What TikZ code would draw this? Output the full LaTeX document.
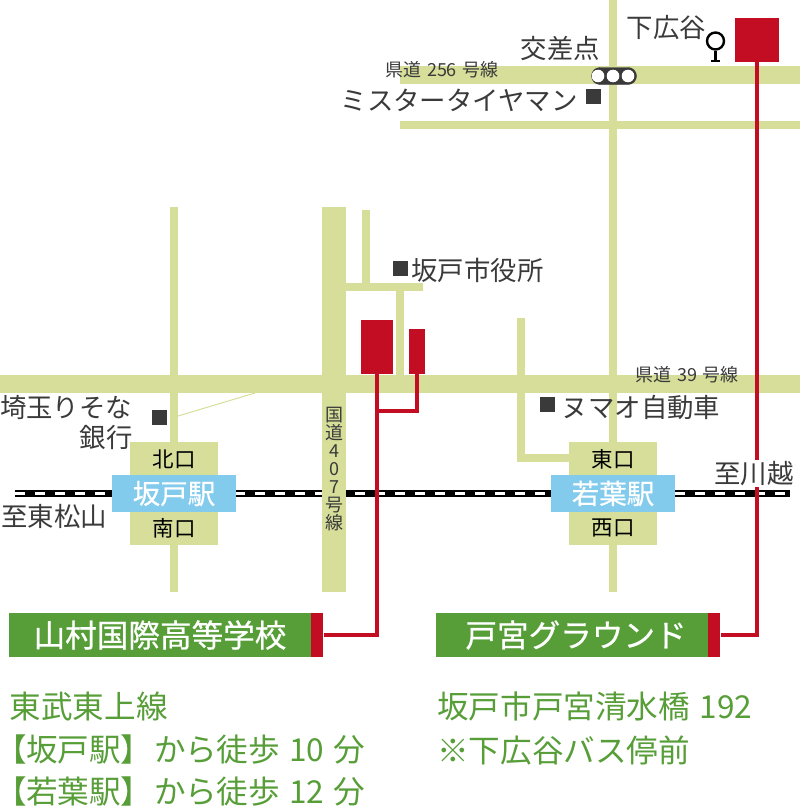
\documentclass[tikz,border=0pt]{standalone}
\usepackage{fontspec}
\setmainfont{Noto Sans CJK JP}
\newfontfamily\heavyfont[FakeBold=0.6]{Noto Sans CJK JP}
\newfontfamily\tightfont[RawFeature=+palt]{Noto Sans CJK JP}
\definecolor{roadcol}{HTML}{D6DE9A}
\definecolor{skycol}{HTML}{83CBEC}
\definecolor{redcol}{HTML}{C30D23}
\definecolor{leafcol}{HTML}{579E38}
\definecolor{inkcol}{HTML}{3A3A3A}
\newcommand{\fs}[1]{\fontsize{#1}{#1}\selectfont}
\newcommand{\nm}[1]{\hspace{.3em}#1\hspace{.3em}}
\tikzset{
  road/.style={fill=roadcol},
  spot/.style={fill=inkcol,inner sep=0,minimum size=15},
  lbl/.style={inner sep=0,text=inkcol,font=\fs{26.4}},
  small/.style={inner sep=0,text=inkcol,font=\fs{18}},
  gate/.style={inner sep=0,text=black,font=\fs{21.5}},
  stn/.style={fill=skycol,inner sep=0,minimum width=124,minimum height=37,text=white,font=\fs{27.5}\heavyfont},
  bldg/.style={fill=redcol,inner sep=0},
  route/.style={draw=redcol,line width=4},
  tab/.style={fill=leafcol,inner sep=0,minimum height=44,text=white,font=\fs{31.6}\heavyfont},
  tabend/.style={fill=redcol,inner sep=0,minimum height=44,minimum width=12},
  info/.style={inner sep=0,anchor=west,text=leafcol,font=\fs{31.6}},
  walk/.style={info,font=\fs{31.6}\tightfont}
}
\begin{document}
\begin{tikzpicture}[x=1pt,y=-1pt]
\useasboundingbox (0,0) rectangle (800,811);
\draw[black,line width=7] (15,493.5) -- (790,493.5);
\draw[white,line width=3,dash pattern=on 10 off 10] (15,493.5) -- (790,493.5);
\foreach \xa/\ya/\xb/\yb in {0/375/800/393,170/207/178/592,322/207/346/592,362/210/370/285,
  346/283/423/291,396/291/404/375,517/318/525/462,517/454/570/462,609/0/617/592,
  400/66/800/84,400/121/800/129,130/442/218/545,569/442/657/545}
\fill[road] (\xa,\ya) rectangle (\xb,\yb);
\draw[roadcol,line width=1] (178,416) -- (255,393);
\node[stn] (sakado) at (174,493.5) {坂戸駅};
\node[stn] (wakaba) at (613,493.5) {若葉駅};
\node[gate] (sakadoN) at (174,459) {北口};
\node[gate] (sakadoS) at (174,528) {南口};
\node[gate] (wakabaE) at (613,459) {東口};
\node[gate] (wakabaW) at (613,528) {西口};
\node[bldg,minimum width=32,minimum height=54] (school) at (377,347) {};
\node[bldg,minimum width=16,minimum height=45] (annex) at (417,351.5) {};
\node[bldg,minimum width=44,minimum height=44] (ground) at (756.5,40) {};
\node[tab,minimum width=302] (schooltab) at (160,635) {山村国際高等学校};
\node[tabend,anchor=west] (schoolend) at (schooltab.east) {};
\node[tab,minimum width=272] (groundtab) at (572,635) {\hspace*{8pt}戸宮グラウンド};
\node[tabend,anchor=west] (groundend) at (groundtab.east) {};
\coordinate (annexjoin) at (377,411);
\draw[route] (school.south) |- (schoolend.east);
\draw[route] (annex.south) |- (annexjoin);
\draw[route] (ground.south) |- (groundend.east);
\node[lbl,fill=white,minimum height=27] (kawagoe) at (754,473.5) {至川越};
\node[lbl] (matsuyama) at (54,516) {至東松山};
\node[lbl] (shimohiroya) at (666.5,28) {下広谷};
\node[lbl] (crossing) at (560.5,48) {交差点};
\node[lbl] (tire) at (459,100) {ミスタータイヤマン};
\node[lbl] (cityhall) at (477.5,270) {坂戸市役所};
\node[lbl] (numao) at (641,408) {ヌマオ自動車};
\node[lbl] (resona) at (66,408) {埼玉りそな};
\node[lbl] (ginko) at (106,437) {銀行};
\node[small] (route256) at (442,70) {県道\nm{256}号線};
\node[small] (route39) at (687,375) {県道\nm{39}号線};
\node[small,align=center] (route407) at (334,469) {国\\道\\4\\0\\7\\号\\線};
\foreach \id/\x/\y in {tire/593.5/96.5,hall/400/268.5,numao/547.5/404.5,resona/159.5/417.5}
\node[spot] (\id spot) at (\x,\y) {};
\draw[inkcol,fill=inkcol,rounded corners=8.5] (591.5,67.5) rectangle (636.5,84.5);
\foreach \x in {598,613,628}
\fill[white] (\x,76) circle (6.3);
\node[circle,draw=black,line width=2.4,inner sep=0,minimum size=17] (busstop) at (715.5,41) {};
\coordinate (busfoot) at (715.5,61);
\draw[black,line width=2.4] (busstop.south) -- (busfoot);
\draw[black,line width=1.8] (711,61) -- (720,61);
\node[info] (line1) at (9.5,706) {東武東上線};
\node[walk] (line2) at (10,750) {【坂戸駅】\hspace{18pt}か\hspace{3pt}ら\hspace{1pt}徒歩\nm{10}分};
\node[walk] (line3) at (10,792) {【若葉駅】\hspace{18pt}か\hspace{3pt}ら\hspace{1pt}徒歩\nm{12}分};
\node[info] (addr1) at (437,706) {坂戸市戸宮清水橋\nm{192}};
\node[info] (addr2) at (437,750) {※下広谷バス停前};
\end{tikzpicture}
\end{document}
